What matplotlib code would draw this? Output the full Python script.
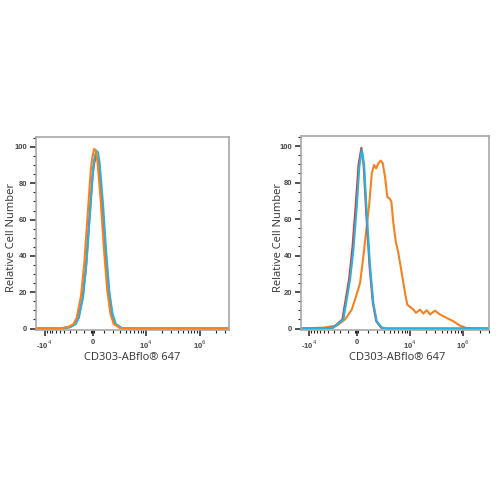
import numpy as np
import matplotlib.pyplot as plt
from matplotlib.ticker import FixedLocator, MultipleLocator

# fluorescence values (biexponential axis) and relative cell number
left_red_x = [-14500, -5000, -2960, -2142, -1700, -1153, -767, -393, -24, 129, 277, 428, 579, 890, 1216, 1560, 1934, 2335, 3262, 5500, 350000]
left_red_y = [0, 0, 0.8, 2.4, 5.8, 17, 34, 59, 84, 91, 95, 94, 88, 67, 41, 20, 7.6, 2.4, 0.3, 0, 0]
left_blue_x = [-14500, -5000, -2874, -2066, -1630, -1089, -704, -330, 30, 178, 327, 477, 629, 943, 1271, 1621, 1997, 2405, 3351, 5500, 350000]
left_blue_y = [0, 0, 0.8, 2.5, 6, 18, 36, 62, 88, 95, 98, 97, 91, 69, 42, 20, 8, 2.5, 0.3, 0, 0]
left_orange_x = [-14500, -5400, -3230, -2375, -1916, -1353, -958, -578, -209, -24, 129, 277, 428, 733, 1049, 1384, 1744, 2130, 3013, 5500, 350000]
left_orange_y = [0, 0, 0.8, 2.5, 6, 18, 36, 62, 88, 95, 99, 98, 92, 70, 43, 21, 8, 2.5, 0.3, 0, 0]

right_red_x = [-14000, -5500, -3102, -1703, -871, -491, -111, 162, 416, 619, 876, 1207, 1562, 1961, 2598, 3379, 300000]
right_red_y = [0, 0, 0.5, 5, 27, 44, 68, 90, 99, 90, 63, 34, 14, 4, 0.5, 0, 0]
right_blue_x = [-14000, -5512, -3055, -1573, -754, -379, 0, 233, 453, 666, 924, 1258, 1617, 2022, 2694, 3493, 300000]
right_blue_y = [0, 0, 0.5, 5, 27, 43, 67, 89, 98, 90, 63, 34, 14, 4, 0.5, 0, 0]
right_orange_x = [-14000, -5104, -2504, -1355, -561, -78, 297, 600, 924, 1185, 1441, 1697, 1936, 2226, 2553,
                  2843, 3205, 3600, 3968, 4368, 4797, 5363, 6037, 7031, 8138, 9003, 10136, 11700, 13150,
                  15630, 18020, 20860, 24030, 29780, 36900, 49100, 65140, 86800, 115600, 300000]
right_orange_y = [0, 0.5, 1.6, 5, 10.4, 17.7, 25, 39.5, 56, 68.7, 85, 89.6, 87.8, 90.5, 92,
                  90.5, 83, 72, 71.4, 69.6, 57.8, 47.7, 41.4, 30.4, 19.5, 13, 11.9, 10.4, 8.6,
                  10.4, 8.2, 10, 7.7, 9.8, 7.7, 5.8, 4, 1.6, 0.2, 0]

xticks = [-1e4, 0, 1e4, 1e5]
xticklabels = ['-10$^4$', '0', '10$^4$', '10$^6$']
yticks = [0, 20, 40, 60, 80, 100]

RED = '#e8352f'
BLUE = '#23b4e2'
ORANGE = '#f5821f'


def fwd(x):
    x = np.asarray(x, dtype=float)
    return np.where(x >= 0, np.arcsinh(x / 2100.0), np.arcsinh(x / 2600.0))


def inv(y):
    y = np.asarray(y, dtype=float)
    return np.where(y >= 0, 2100.0 * np.sinh(y), 2600.0 * np.sinh(y))


minor = [-200, -100, 100]
for k in range(1, 10):
    minor += [k * 1000, -k * 1000, k * 1e4]
minor += [2e5, 3e5]

fig = plt.figure(figsize=(5, 5), dpi=100)


def style_axes(ax, xlim):
    ax.set_xscale('function', functions=(fwd, inv))
    ax.set_xlim(*xlim)
    ax.set_ylim(-0.8, 105.5)
    ax.xaxis.set_major_locator(FixedLocator(xticks))
    ax.set_xticklabels(xticklabels)
    ax.xaxis.set_minor_locator(FixedLocator(minor))
    ax.set_yticks(yticks)
    ax.yaxis.set_minor_locator(MultipleLocator(5))
    for s in ax.spines.values():
        s.set_color('#a8a8a8')
        s.set_linewidth(1.2)
    ax.tick_params(which='major', length=4, width=1.1, color='#222222', labelsize=5.5,
                   labelcolor='#444444', pad=2.5)
    ax.tick_params(which='minor', length=2, width=0.8, color='#222222')
    for lab in ax.get_xticklabels() + ax.get_yticklabels():
        lab.set_fontfamily('Liberation Sans')
        lab.set_fontweight('bold')


ax1 = fig.add_axes([0.072, 0.34, 0.386, 0.386])
ax1.plot(left_red_x, left_red_y, color=RED, lw=1.5)
ax1.plot(left_blue_x, left_blue_y, color=BLUE, lw=1.5)
ax1.plot(left_orange_x, left_orange_y, color=ORANGE, lw=1.5)
style_axes(ax1, (-14500, 350000))

ax2 = fig.add_axes([0.602, 0.34, 0.376, 0.388])
ax2.plot(right_orange_x, right_orange_y, color=ORANGE, lw=1.5)
ax2.plot(right_red_x, right_red_y, color=RED, lw=1.5)
ax2.plot(right_blue_x, right_blue_y, color=BLUE, lw=1.5)
style_axes(ax2, (-14000, 300000))

lab_kw = dict(fontsize=8, color='#333333', family='Open Sans', ha='center', va='center')
fig.text(132 / 500, 1 - 357.7 / 500, 'CD303-ABflo® 647', **lab_kw)
fig.text(397 / 500, 1 - 357.7 / 500, 'CD303-ABflo® 647', **lab_kw)
fig.text(11.7 / 500, 1 - 237.5 / 500, 'Relative Cell Number', rotation=90, **lab_kw)
fig.text(278.3 / 500, 1 - 237.5 / 500, 'Relative Cell Number', rotation=90, **lab_kw)

fig.savefig('out.png', dpi=100, facecolor='white')
